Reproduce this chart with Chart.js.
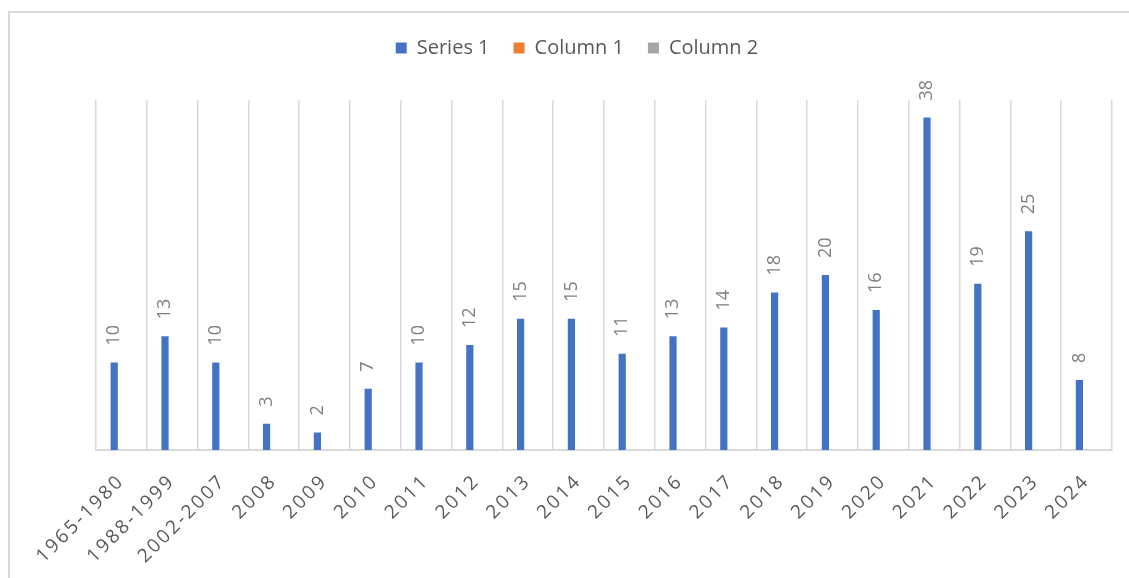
<!DOCTYPE html>
<html>
<head>
<meta charset="utf-8">
<script src="https://cdn.jsdelivr.net/npm/chart.js@4.4.0/dist/chart.umd.min.js"></script>
<style>
  html, body { margin: 0; padding: 0; background: #ffffff; }
  #wrap { position: relative; width: 1129px; height: 578px; overflow: hidden; }
  #frame { position: absolute; left: 8px; top: 11px; width: 1200px; height: 700px;
           border-left: 2px solid #d9d9d9; border-top: 2px solid #d9d9d9; box-sizing: border-box; }
  #c { position: absolute; left: 0; top: 0; }
</style>
</head>
<body>
<div id="wrap">
  <div id="frame"></div>
  <canvas id="c" width="1129" height="578"></canvas>
</div>
<script>
const categories = ["1965-1980","1988-1999","2002-2007","2008","2009","2010","2011","2012","2013","2014","2015","2016","2017","2018","2019","2020","2021","2022","2023","2024"];
const series1 = [10,13,10,3,2,7,10,12,15,15,11,13,14,18,20,16,38,19,25,8];
const column1 = [null,null,null,null,null,null,null,null,null,null,null,null,null,null,null,null,null,null,null,null];
const column2 = [null,null,null,null,null,null,null,null,null,null,null,null,null,null,null,null,null,null,null,null];
const yMin = 0;
const yMax = 40;

const FONT = "'Open Sans', 'Noto Sans', sans-serif";

const legendPatch = {
  id: 'legendPatch',
  beforeLayout(chart) {
    const lg = chart.legend;
    if (lg && !lg._patched) {
      const orig = lg.fit.bind(lg);
      lg.fit = function() { orig(); this.height = 86; };
      lg._patched = true;
    }
  },
  beforeDraw(chart) {
    const sx = chart.scales.x;
    if (sx && !sx._lsPatched) {
      const origDL = sx.drawLabels.bind(sx);
      sx.drawLabels = function(area) {
        const ctx = this.ctx;
        ctx.save();
        ctx.letterSpacing = '2.5px';
        origDL(area);
        ctx.restore();
      };
      sx._lsPatched = true;
    }
  }
};

const dataLabels = {
  id: 'dataLabels',
  afterDatasetsDraw(chart) {
    const ctx = chart.ctx;
    const meta = chart.getDatasetMeta(0);
    const vals = chart.data.datasets[0].data;
    ctx.save();
    ctx.font = "18px " + FONT;
    ctx.fillStyle = '#7f7f7f';
    meta.data.forEach((bar, i) => {
      if (vals[i] == null) return;
      ctx.save();
      ctx.translate(bar.x, bar.y - 17);
      ctx.rotate(-Math.PI / 2);
      ctx.textAlign = 'left';
      ctx.textBaseline = 'middle';
      ctx.fillText(String(vals[i]), 0, 0);
      ctx.restore();
    });
    ctx.restore();
  }
};

new Chart(document.getElementById('c'), {
  type: 'bar',
  data: {
    labels: categories,
    datasets: [
      { label: 'Series 1', data: series1, backgroundColor: '#4472C4', borderWidth: 0 },
      { label: 'Column 1', data: column1, backgroundColor: '#ED7D31', borderWidth: 0 },
      { label: 'Column 2', data: column2, backgroundColor: '#A5A5A5', borderWidth: 0 }
    ]
  },
  options: {
    responsive: false,
    animation: false,
    devicePixelRatio: 1,
    categoryPercentage: 0.425,
    barPercentage: 1.0,
    layout: { padding: { left: 42, right: 17, top: 14, bottom: 0 } },
    plugins: {
      legend: {
        position: 'top',
        labels: {
          boxWidth: 11, boxHeight: 11, padding: 24,
          color: '#595959',
          font: { family: FONT, size: 20 }
        }
      },
      tooltip: { enabled: false }
    },
    scales: {
      x: {
        grid: { display: true, color: '#d9d9d9', lineWidth: 1.5, drawTicks: false, offset: true },
        border: { display: true, color: '#d9d9d9', width: 2 },
        ticks: {
          autoSkip: false, minRotation: 45, maxRotation: 45, padding: 20,
          color: '#595959', font: { family: FONT, size: 19 }
        },
        afterFit(s) { s.height = 128; }
      },
      y: {
        min: yMin, max: yMax,
        grid: { display: false },
        border: { display: false },
        ticks: { display: false },
        afterFit(s) { s.width = 54; }
      }
    }
  },
  plugins: [legendPatch, dataLabels]
});
</script>
</body>
</html>
